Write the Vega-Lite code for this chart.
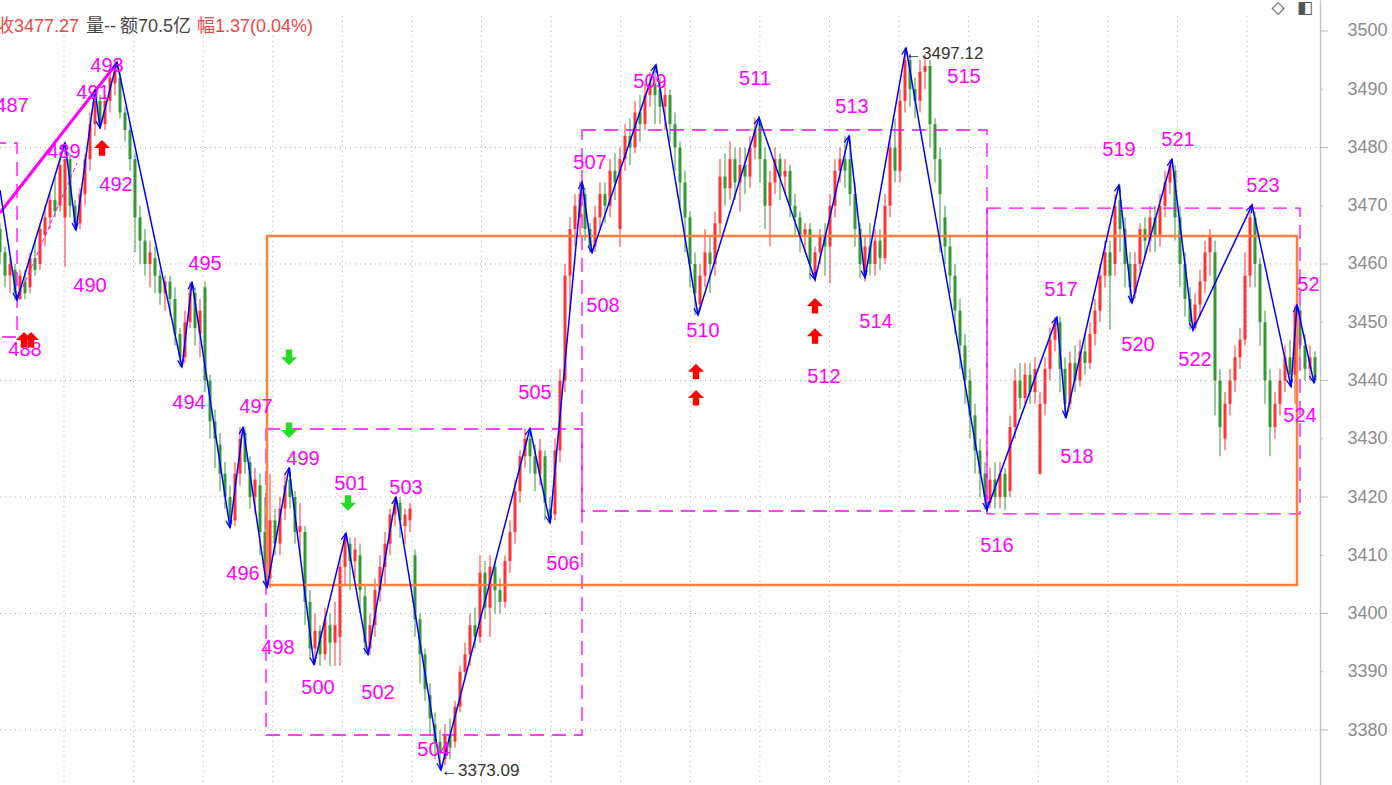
{
"$schema": "https://vega.github.io/schema/vega-lite/v6.json",
"width": 1320, "height": 785,
"autosize": {"type": "none"},
"padding": {"left": 0, "top": 0, "right": 72, "bottom": 0},
"background": "white",
"config": {"view": {"stroke": null}},
"datasets": {
"vgrid": [{"t":64},{"t":133.6},{"t":203.2},{"t":272.8},{"t":342.4},{"t":412},{"t":481.5},{"t":551.1},{"t":620.7},{"t":690.3},{"t":759.9},{"t":829.5},{"t":899.1},{"t":968.7},{"t":1038.3},{"t":1107.9},{"t":1177.5},{"t":1247}],
"major": [{"v":3380},{"v":3400},{"v":3420},{"v":3440},{"v":3460},{"v":3480},{"v":3500}],
"minor": [{"v":3390},{"v":3410},{"v":3430},{"v":3450},{"v":3470},{"v":3490}],
"candles": [
{"t":0,"o":3466,"c":3462,"h":3467,"l":3460},
{"t":5,"o":3462,"c":3458,"h":3463,"l":3456},
{"t":10,"o":3458,"c":3460,"h":3461,"l":3455},
{"t":15,"o":3459,"c":3455,"h":3460,"l":3453.8},
{"t":20,"o":3454,"c":3458,"h":3459,"l":3453.8},
{"t":25,"o":3457,"c":3455,"h":3459,"l":3454},
{"t":30,"o":3456,"c":3461,"h":3462,"l":3455},
{"t":35,"o":3461,"c":3459,"h":3464,"l":3458},
{"t":40,"o":3460,"c":3466,"h":3467,"l":3459},
{"t":45,"o":3465,"c":3468,"h":3470,"l":3463},
{"t":50,"o":3468,"c":3471,"h":3472,"l":3466},
{"t":55,"o":3471,"c":3469,"h":3475,"l":3468},
{"t":60,"o":3470,"c":3477,"h":3478,"l":3469},
{"t":65,"o":3468,"c":3478,"h":3480.8,"l":3459.5},
{"t":70,"o":3478,"c":3470,"h":3479,"l":3468},
{"t":75,"o":3470,"c":3467,"h":3471,"l":3465.8},
{"t":80,"o":3467,"c":3472,"h":3473,"l":3466},
{"t":85,"o":3472,"c":3478,"h":3479,"l":3470},
{"t":90,"o":3478,"c":3484,"h":3486,"l":3476},
{"t":95,"o":3484,"c":3488,"h":3489.9,"l":3482},
{"t":100,"o":3488,"c":3484,"h":3489,"l":3483.3},
{"t":105,"o":3484,"c":3488,"h":3489,"l":3483},
{"t":110,"o":3488,"c":3492,"h":3493,"l":3486},
{"t":115,"o":3491,"c":3494,"h":3494.7,"l":3489},
{"t":120,"o":3492,"c":3486,"h":3493,"l":3485},
{"t":125,"o":3486,"c":3483,"h":3487,"l":3481},
{"t":130,"o":3483,"c":3478,"h":3484,"l":3476},
{"t":135,"o":3478,"c":3468,"h":3479,"l":3462},
{"t":140,"o":3468,"c":3464,"h":3470,"l":3460},
{"t":145,"o":3464,"c":3460,"h":3466,"l":3458},
{"t":150,"o":3460,"c":3462,"h":3464,"l":3456},
{"t":155,"o":3461,"c":3458,"h":3463,"l":3455},
{"t":160,"o":3458,"c":3455,"h":3459,"l":3453},
{"t":165,"o":3455,"c":3457,"h":3458,"l":3452},
{"t":170,"o":3457,"c":3454,"h":3458,"l":3451},
{"t":175,"o":3454,"c":3448,"h":3456,"l":3446},
{"t":180,"o":3448,"c":3444,"h":3449,"l":3442.3},
{"t":185,"o":3444,"c":3450,"h":3452,"l":3443},
{"t":190,"o":3450,"c":3455,"h":3456.9,"l":3449},
{"t":195,"o":3455,"c":3449,"h":3456,"l":3446},
{"t":200,"o":3448,"c":3452,"h":3454,"l":3444},
{"t":205,"o":3456,"c":3440,"h":3457,"l":3438},
{"t":210,"o":3440,"c":3433,"h":3441,"l":3430},
{"t":215,"o":3433,"c":3430,"h":3435,"l":3425},
{"t":220,"o":3429,"c":3424,"h":3431,"l":3421},
{"t":225,"o":3424,"c":3420,"h":3426,"l":3418},
{"t":230,"o":3420,"c":3416,"h":3422,"l":3414.7},
{"t":235,"o":3416,"c":3424,"h":3426,"l":3415},
{"t":240,"o":3424,"c":3430,"h":3432,"l":3422},
{"t":245,"o":3431,"c":3426,"h":3432,"l":3424},
{"t":250,"o":3426,"c":3420,"h":3427,"l":3418},
{"t":255,"o":3420,"c":3423,"h":3425,"l":3417},
{"t":260,"o":3422,"c":3414,"h":3424,"l":3410},
{"t":265,"o":3414,"c":3408,"h":3420,"l":3405},
{"t":270,"o":3406,"c":3416,"h":3424,"l":3404.4},
{"t":275,"o":3416,"c":3412,"h":3418,"l":3410},
{"t":280,"o":3412,"c":3418,"h":3420,"l":3410},
{"t":285,"o":3418,"c":3422,"h":3424,"l":3416},
{"t":290,"o":3423,"c":3420,"h":3425,"l":3418},
{"t":295,"o":3420,"c":3414,"h":3421,"l":3412},
{"t":300,"o":3414,"c":3415,"h":3419,"l":3410},
{"t":305,"o":3414,"c":3402,"h":3415,"l":3398},
{"t":310,"o":3402,"c":3394,"h":3404,"l":3392},
{"t":315,"o":3394,"c":3397,"h":3400,"l":3391.2},
{"t":320,"o":3397,"c":3393,"h":3398,"l":3391},
{"t":325,"o":3393,"c":3399,"h":3401,"l":3392},
{"t":330,"o":3398,"c":3395,"h":3400,"l":3391},
{"t":335,"o":3395,"c":3398,"h":3402,"l":3391},
{"t":340,"o":3396,"c":3408,"h":3410,"l":3391},
{"t":345,"o":3408,"c":3413,"h":3413.8,"l":3405},
{"t":350,"o":3412,"c":3409,"h":3413,"l":3404},
{"t":355,"o":3409,"c":3411,"h":3413,"l":3406},
{"t":360,"o":3410,"c":3404,"h":3412,"l":3400},
{"t":365,"o":3403,"c":3395,"h":3405,"l":3393},
{"t":370,"o":3394,"c":3398,"h":3400,"l":3392.9},
{"t":375,"o":3398,"c":3404,"h":3406,"l":3396},
{"t":380,"o":3404,"c":3408,"h":3410,"l":3402},
{"t":385,"o":3408,"c":3412,"h":3414,"l":3405},
{"t":390,"o":3412,"c":3417,"h":3418,"l":3410},
{"t":395,"o":3417,"c":3419,"h":3420,"l":3415},
{"t":400,"o":3419,"c":3416,"h":3420,"l":3413},
{"t":405,"o":3415,"c":3417,"h":3418,"l":3412},
{"t":410,"o":3416,"c":3418,"h":3419,"l":3414},
{"t":415,"o":3410,"c":3399,"h":3411,"l":3396},
{"t":420,"o":3399,"c":3393,"h":3400,"l":3388},
{"t":425,"o":3393,"c":3387,"h":3394,"l":3385},
{"t":430,"o":3386,"c":3382,"h":3388,"l":3379},
{"t":435,"o":3381,"c":3378,"h":3383,"l":3375},
{"t":440,"o":3378,"c":3376,"h":3380,"l":3373.09},
{"t":445,"o":3375,"c":3379,"h":3381,"l":3374},
{"t":450,"o":3379,"c":3377,"h":3382,"l":3375},
{"t":455,"o":3378,"c":3384,"h":3385,"l":3377},
{"t":460,"o":3384,"c":3390,"h":3391,"l":3383},
{"t":465,"o":3390,"c":3393,"h":3395,"l":3389},
{"t":470,"o":3393,"c":3398,"h":3400,"l":3391},
{"t":475,"o":3398,"c":3396,"h":3401,"l":3394},
{"t":480,"o":3396,"c":3407,"h":3410,"l":3395},
{"t":485,"o":3407,"c":3401,"h":3409,"l":3399},
{"t":490,"o":3401,"c":3408,"h":3410,"l":3396},
{"t":495,"o":3408,"c":3404,"h":3409,"l":3400},
{"t":500,"o":3404,"c":3402,"h":3406,"l":3400},
{"t":505,"o":3402,"c":3409,"h":3410,"l":3401},
{"t":510,"o":3409,"c":3414,"h":3416,"l":3407},
{"t":515,"o":3414,"c":3421,"h":3423,"l":3412},
{"t":520,"o":3421,"c":3427,"h":3428,"l":3419},
{"t":525,"o":3427,"c":3430,"h":3431.8,"l":3425},
{"t":530,"o":3430,"c":3427,"h":3431,"l":3424},
{"t":535,"o":3427,"c":3424,"h":3429,"l":3421},
{"t":540,"o":3424,"c":3428,"h":3430,"l":3422},
{"t":545,"o":3427,"c":3419,"h":3428,"l":3416},
{"t":550,"o":3418,"c":3416,"h":3420,"l":3415.5},
{"t":555,"o":3417,"c":3428,"h":3430,"l":3416},
{"t":560,"o":3428,"c":3440,"h":3442,"l":3426},
{"t":565,"o":3440,"c":3458,"h":3460,"l":3438},
{"t":570,"o":3458,"c":3466,"h":3468,"l":3452},
{"t":575,"o":3466,"c":3470,"h":3472,"l":3463},
{"t":580,"o":3468,"c":3472,"h":3474.1,"l":3465},
{"t":585,"o":3472,"c":3466,"h":3473,"l":3464},
{"t":590,"o":3466,"c":3463,"h":3467,"l":3461.9},
{"t":595,"o":3463,"c":3468,"h":3470,"l":3462},
{"t":600,"o":3468,"c":3472,"h":3474,"l":3466},
{"t":605,"o":3472,"c":3470,"h":3474,"l":3467},
{"t":610,"o":3470,"c":3476,"h":3478,"l":3468},
{"t":615,"o":3476,"c":3474,"h":3479,"l":3471},
{"t":620,"o":3466,"c":3478,"h":3480,"l":3463},
{"t":625,"o":3478,"c":3482,"h":3484,"l":3476},
{"t":630,"o":3482,"c":3480,"h":3485,"l":3477},
{"t":635,"o":3480,"c":3486,"h":3488,"l":3479},
{"t":640,"o":3486,"c":3484,"h":3489,"l":3481},
{"t":645,"o":3484,"c":3489,"h":3491,"l":3483},
{"t":650,"o":3489,"c":3491,"h":3493,"l":3487},
{"t":655,"o":3491,"c":3489,"h":3494.2,"l":3484},
{"t":660,"o":3490,"c":3487,"h":3492,"l":3484},
{"t":665,"o":3487,"c":3489,"h":3491,"l":3483},
{"t":670,"o":3489,"c":3484,"h":3490,"l":3481},
{"t":675,"o":3484,"c":3480,"h":3486,"l":3476},
{"t":680,"o":3480,"c":3474,"h":3481,"l":3470},
{"t":685,"o":3474,"c":3468,"h":3476,"l":3462},
{"t":690,"o":3468,"c":3460,"h":3469,"l":3456},
{"t":695,"o":3460,"c":3455,"h":3462,"l":3451.2},
{"t":700,"o":3453,"c":3458,"h":3460,"l":3452},
{"t":705,"o":3458,"c":3462,"h":3466,"l":3456},
{"t":710,"o":3462,"c":3460,"h":3465,"l":3455},
{"t":715,"o":3460,"c":3467,"h":3469,"l":3458},
{"t":720,"o":3467,"c":3475,"h":3478,"l":3465},
{"t":725,"o":3475,"c":3473,"h":3479,"l":3470},
{"t":730,"o":3473,"c":3478,"h":3481,"l":3471},
{"t":735,"o":3478,"c":3474,"h":3480,"l":3471},
{"t":740,"o":3474,"c":3477,"h":3480,"l":3469},
{"t":745,"o":3477,"c":3475,"h":3480,"l":3472},
{"t":750,"o":3475,"c":3480,"h":3482,"l":3473},
{"t":755,"o":3480,"c":3483,"h":3485.1,"l":3478},
{"t":760,"o":3484,"c":3478,"h":3485,"l":3474},
{"t":765,"o":3478,"c":3470,"h":3480,"l":3466},
{"t":770,"o":3470,"c":3474,"h":3476,"l":3463},
{"t":775,"o":3474,"c":3478,"h":3480,"l":3472},
{"t":780,"o":3478,"c":3475,"h":3479,"l":3471},
{"t":785,"o":3475,"c":3476,"h":3478,"l":3472},
{"t":790,"o":3476,"c":3470,"h":3477,"l":3468},
{"t":795,"o":3470,"c":3468,"h":3472,"l":3465},
{"t":800,"o":3468,"c":3465,"h":3469,"l":3462},
{"t":805,"o":3465,"c":3466,"h":3467,"l":3462},
{"t":810,"o":3466,"c":3460,"h":3467,"l":3457.3},
{"t":815,"o":3458,"c":3462,"h":3463,"l":3457.3},
{"t":820,"o":3462,"c":3465,"h":3466,"l":3460},
{"t":825,"o":3465,"c":3463,"h":3467,"l":3458},
{"t":830,"o":3463,"c":3470,"h":3472,"l":3456.7},
{"t":835,"o":3470,"c":3476,"h":3478,"l":3468},
{"t":840,"o":3476,"c":3478,"h":3480,"l":3474},
{"t":845,"o":3478,"c":3476,"h":3482,"l":3473},
{"t":850,"o":3478,"c":3472,"h":3482,"l":3470},
{"t":855,"o":3472,"c":3466,"h":3474,"l":3463},
{"t":860,"o":3466,"c":3460,"h":3467,"l":3457.6},
{"t":865,"o":3458,"c":3463,"h":3465,"l":3457},
{"t":870,"o":3463,"c":3460,"h":3467,"l":3458},
{"t":875,"o":3460,"c":3464,"h":3466,"l":3458},
{"t":880,"o":3464,"c":3461,"h":3466,"l":3459},
{"t":885,"o":3461,"c":3470,"h":3472,"l":3460},
{"t":890,"o":3470,"c":3480,"h":3482,"l":3468},
{"t":895,"o":3480,"c":3476,"h":3485,"l":3474},
{"t":900,"o":3476,"c":3488,"h":3490,"l":3474},
{"t":905,"o":3488,"c":3495,"h":3497.12,"l":3486},
{"t":910,"o":3495,"c":3490,"h":3496,"l":3487},
{"t":915,"o":3490,"c":3488,"h":3492,"l":3485},
{"t":920,"o":3488,"c":3493,"h":3495,"l":3486},
{"t":925,"o":3493,"c":3494,"h":3496,"l":3490},
{"t":930,"o":3494,"c":3484,"h":3495,"l":3480},
{"t":935,"o":3484,"c":3478,"h":3485,"l":3474},
{"t":940,"o":3478,"c":3472,"h":3480,"l":3462},
{"t":945,"o":3468,"c":3463,"h":3470,"l":3460},
{"t":950,"o":3463,"c":3458,"h":3465,"l":3455},
{"t":955,"o":3458,"c":3452,"h":3460,"l":3448},
{"t":960,"o":3452,"c":3446,"h":3454,"l":3442},
{"t":965,"o":3446,"c":3440,"h":3448,"l":3436},
{"t":970,"o":3440,"c":3434,"h":3442,"l":3430},
{"t":975,"o":3434,"c":3428,"h":3436,"l":3424},
{"t":980,"o":3428,"c":3424,"h":3430,"l":3420},
{"t":985,"o":3424,"c":3420,"h":3426,"l":3417.8},
{"t":990,"o":3419,"c":3423,"h":3425,"l":3418},
{"t":995,"o":3423,"c":3420,"h":3426,"l":3418},
{"t":1000,"o":3420,"c":3424,"h":3426,"l":3418},
{"t":1005,"o":3424,"c":3420,"h":3425,"l":3417.8},
{"t":1010,"o":3421,"c":3432,"h":3434,"l":3420},
{"t":1015,"o":3432,"c":3440,"h":3442,"l":3430},
{"t":1020,"o":3440,"c":3437,"h":3443,"l":3435},
{"t":1025,"o":3437,"c":3441,"h":3443,"l":3436},
{"t":1030,"o":3441,"c":3438,"h":3443,"l":3436},
{"t":1035,"o":3438,"c":3442,"h":3444,"l":3436},
{"t":1040,"o":3424,"c":3436,"h":3438,"l":3423.8},
{"t":1045,"o":3436,"c":3442,"h":3444,"l":3434},
{"t":1050,"o":3442,"c":3447,"h":3449,"l":3440},
{"t":1055,"o":3447,"c":3450,"h":3450.9,"l":3445},
{"t":1060,"o":3450,"c":3442,"h":3451,"l":3438},
{"t":1065,"o":3442,"c":3436,"h":3444,"l":3433.6},
{"t":1070,"o":3436,"c":3443,"h":3445,"l":3435},
{"t":1075,"o":3443,"c":3440,"h":3446,"l":3438},
{"t":1080,"o":3440,"c":3445,"h":3447,"l":3439},
{"t":1085,"o":3445,"c":3443,"h":3448,"l":3441},
{"t":1090,"o":3443,"c":3448,"h":3450,"l":3442},
{"t":1095,"o":3448,"c":3452,"h":3454,"l":3446},
{"t":1100,"o":3452,"c":3458,"h":3460,"l":3450},
{"t":1105,"o":3458,"c":3462,"h":3464,"l":3456},
{"t":1110,"o":3462,"c":3458,"h":3464,"l":3448.7},
{"t":1115,"o":3460,"c":3470,"h":3472,"l":3458},
{"t":1120,"o":3471,"c":3466,"h":3473.6,"l":3462},
{"t":1125,"o":3466,"c":3460,"h":3468,"l":3456},
{"t":1130,"o":3460,"c":3456,"h":3462,"l":3453.3},
{"t":1135,"o":3455,"c":3460,"h":3462,"l":3454},
{"t":1140,"o":3460,"c":3466,"h":3467,"l":3458},
{"t":1145,"o":3466,"c":3464,"h":3468,"l":3461},
{"t":1150,"o":3464,"c":3468,"h":3470,"l":3462},
{"t":1155,"o":3468,"c":3465,"h":3470,"l":3462},
{"t":1160,"o":3465,"c":3470,"h":3472,"l":3463},
{"t":1165,"o":3470,"c":3474,"h":3476,"l":3468},
{"t":1170,"o":3474,"c":3477,"h":3478,"l":3472},
{"t":1175,"o":3476,"c":3468,"h":3477,"l":3464},
{"t":1180,"o":3468,"c":3460,"h":3470,"l":3456},
{"t":1185,"o":3460,"c":3454,"h":3462,"l":3451},
{"t":1190,"o":3454,"c":3450,"h":3456,"l":3448.7},
{"t":1195,"o":3449,"c":3453,"h":3455,"l":3448.7},
{"t":1200,"o":3453,"c":3457,"h":3459,"l":3451},
{"t":1205,"o":3457,"c":3462,"h":3464,"l":3455},
{"t":1210,"o":3462,"c":3465,"h":3466,"l":3458},
{"t":1215,"o":3462,"c":3440,"h":3464,"l":3434},
{"t":1220,"o":3440,"c":3432,"h":3442,"l":3427},
{"t":1225,"o":3430,"c":3436,"h":3438,"l":3428},
{"t":1230,"o":3436,"c":3440,"h":3442,"l":3434},
{"t":1235,"o":3440,"c":3444,"h":3446,"l":3438},
{"t":1240,"o":3444,"c":3447,"h":3449,"l":3442},
{"t":1245,"o":3447,"c":3458,"h":3462,"l":3446},
{"t":1250,"o":3458,"c":3468,"h":3470.1,"l":3456},
{"t":1255,"o":3468,"c":3460,"h":3469,"l":3456},
{"t":1260,"o":3460,"c":3450,"h":3461,"l":3446},
{"t":1265,"o":3450,"c":3440,"h":3452,"l":3436},
{"t":1270,"o":3440,"c":3432,"h":3442,"l":3427},
{"t":1275,"o":3432,"c":3436,"h":3438,"l":3430},
{"t":1280,"o":3436,"c":3440,"h":3442,"l":3434},
{"t":1285,"o":3440,"c":3444,"h":3446,"l":3438},
{"t":1290,"o":3444,"c":3441,"h":3447,"l":3438.9},
{"t":1295,"o":3441,"c":3452,"h":3453,"l":3436},
{"t":1300,"o":3452,"c":3446,"h":3453,"l":3444},
{"t":1305,"o":3446,"c":3442,"h":3448,"l":3440},
{"t":1310,"o":3442,"c":3444,"h":3446,"l":3440},
{"t":1315,"o":3444,"c":3440,"h":3445,"l":3439.6}
],
"zig": [
{"t":0,"v":3472.7},{"t":17,"v":3453.8},{"t":65,"v":3480.8},{"t":76,"v":3465.8},{"t":95,"v":3489.9},{"t":100,"v":3483.3},{"t":117,"v":3494.7},{"t":182,"v":3442.3},{"t":192,"v":3456.9},{"t":230,"v":3414.7},{"t":243,"v":3432.0},{"t":267,"v":3404.4},{"t":289,"v":3425.0},{"t":314,"v":3391.2},{"t":346,"v":3413.8},{"t":368,"v":3392.9},{"t":396,"v":3420.0},{"t":441,"v":3373.09},{"t":530,"v":3431.8},{"t":550,"v":3415.5},{"t":582,"v":3474.1},{"t":592,"v":3461.9},{"t":656,"v":3494.2},{"t":698,"v":3451.2},{"t":759,"v":3485.1},{"t":815,"v":3457.3},{"t":849,"v":3482.0},{"t":865,"v":3457.6},{"t":906,"v":3497.12},{"t":987,"v":3417.8},{"t":1057,"v":3450.9},{"t":1066,"v":3433.6},{"t":1119,"v":3473.6},{"t":1132,"v":3453.3},{"t":1172,"v":3478.0},{"t":1193,"v":3448.7},{"t":1252,"v":3470.1},{"t":1291,"v":3438.9},{"t":1297,"v":3453.0},{"t":1314,"v":3439.6}
],
"labels": [
{"n":"487","t":12,"v":3487.1},{"n":"488","t":25,"v":3445.2},{"n":"489","t":64,"v":3479.2},{"n":"490","t":90,"v":3456.2},{"n":"491","t":93,"v":3489.4},{"n":"492","t":116,"v":3473.6},{"n":"493","t":107,"v":3494.0},{"n":"494","t":189,"v":3436.1},{"n":"495","t":205,"v":3460.0},{"n":"496","t":243,"v":3406.8},{"n":"497","t":256,"v":3435.5},{"n":"498","t":278,"v":3394.1},{"n":"499","t":303,"v":3426.5},{"n":"500","t":318,"v":3387.2},{"n":"501","t":351,"v":3422.2},{"n":"502","t":378,"v":3386.4},{"n":"503","t":406,"v":3421.5},{"n":"504","t":434,"v":3376.6},{"n":"505","t":535,"v":3437.9},{"n":"506","t":563,"v":3408.5},{"n":"507","t":590,"v":3477.3},{"n":"508","t":603,"v":3452.8},{"n":"509","t":650,"v":3491.2},{"n":"510","t":703,"v":3448.5},{"n":"511","t":755,"v":3491.8},{"n":"512","t":824,"v":3440.6},{"n":"513","t":852,"v":3487.0},{"n":"514","t":876,"v":3450.0},{"n":"515","t":964,"v":3492.1},{"n":"516","t":997,"v":3411.6},{"n":"517","t":1061,"v":3455.5},{"n":"518","t":1077,"v":3426.9},{"n":"519","t":1119,"v":3479.6},{"n":"520","t":1138,"v":3446.1},{"n":"521","t":1178,"v":3481.3},{"n":"522","t":1195,"v":3443.5},{"n":"523","t":1263,"v":3473.4},{"n":"524","t":1300,"v":3433.9},{"n":"525","t":1314,"v":3456.4}
],
"boxes": [
{"x1":-30,"x2":17,"y1":3480.77,"y2":3447.47},
{"x1":266,"x2":582,"y1":3431.67,"y2":3379.14},
{"x1":582,"x2":987,"y1":3483.0,"y2":3417.6},
{"x1":987,"x2":1300,"y1":3469.6,"y2":3417.1}
],
"obox": [{"x1":267,"x2":1297,"y1":3464.8,"y2":3404.9}],
"plines": [
{"id":"a","t":0,"v":3468.8},{"id":"a","t":117,"v":3494.5},
{"id":"b","t":17,"v":3453.8},{"id":"b","t":77,"v":3477.3}
],
"sigs": [
{"t":24,"v":3446.95,"dir":"up"},{"t":31,"v":3446.95,"dir":"up"},{"t":102,"v":3479.9,"dir":"up"},{"t":696,"v":3441.5,"dir":"up"},{"t":696,"v":3437.0,"dir":"up"},{"t":815,"v":3452.8,"dir":"up"},{"t":815,"v":3447.6,"dir":"up"},
{"t":289,"v":3444.0,"dir":"down"},{"t":289,"v":3431.5,"dir":"down"},{"t":348,"v":3419.0,"dir":"down"}
],
"notes": [{"t":905,"v":3496.05,"text":"←3497.12"},{"t":441,"v":3372.96,"text":"←3373.09"}],
"hdr": [
{"t":-4,"v":3500.7,"text":"收3477.27","k":"r"},{"t":86,"v":3500.7,"text":"量--","k":"g"},{"t":120,"v":3500.7,"text":"额70.5亿","k":"g"},{"t":197,"v":3500.7,"text":"幅1.37(0.04%)","k":"r"}
],
"icons": [{"t":1278,"v":3503.95,"text":"◇"},{"t":1305,"v":3503.95,"text":"◧"}]
},
"layer": [
{"data":{"name":"major"},"transform":[{"filter":"datum.v < 3500"}],"mark":{"type":"rule","strokeDash":[1,4],"color":"#aaaaaa","strokeWidth":1},
 "encoding":{"y":{"field":"v","type":"quantitative","scale":{"domain":[3370.56,3505.32],"nice":false,"zero":false},
   "axis":{"orient":"right","values":[3380,3390,3400,3410,3420,3430,3440,3450,3460,3470,3480,3490,3500],"title":null,
    "grid":false,"ticks":false,"format":"d","domainColor":"#c4c4c4","domainWidth":1.5,
    "labelFont":"Liberation Sans","labelFontSize":18,"labelColor":"#8c8c8c","labelPadding":27}},
  "x":{"datum":0,"type":"quantitative","scale":{"domain":[0,1320],"nice":false,"zero":false},"axis":null},"x2":{"datum":1320}}},
{"data":{"name":"vgrid"},"mark":{"type":"rule","strokeDash":[1,4],"color":"#aaaaaa","strokeWidth":1},
 "encoding":{"x":{"field":"t","type":"quantitative","axis":null},"y":{"datum":3502.6,"type":"quantitative","axis":{"title":null}},"y2":{"datum":3370.56}}},
{"data":{"name":"major"},"mark":{"type":"rule","color":"#b8b8b8","strokeWidth":1},
 "encoding":{"y":{"field":"v","type":"quantitative","axis":{"title":null}},"x":{"datum":1320,"type":"quantitative","axis":null},"x2":{"datum":1328}}},
{"data":{"name":"minor"},"mark":{"type":"rule","color":"#b8b8b8","strokeWidth":1},
 "encoding":{"y":{"field":"v","type":"quantitative","axis":{"title":null}},"x":{"datum":1320,"type":"quantitative","axis":null},"x2":{"datum":1323}}},
{"data":{"name":"candles"},"mark":{"type":"rule","strokeWidth":1,"clip":true},
 "encoding":{
  "x":{"field":"t","type":"quantitative","axis":null},
  "y":{"field":"l","type":"quantitative","axis":{"title":null}},
  "y2":{"field":"h"},
  "color":{"condition":{"test":"datum.c >= datum.o","value":"#ff3333"},"value":"#339933"}
 }},
{"data":{"name":"candles"},"mark":{"type":"rule","strokeWidth":3,"clip":true},
 "encoding":{
  "x":{"field":"t","type":"quantitative","axis":null},
  "y":{"field":"o","type":"quantitative","axis":{"title":null}},
  "y2":{"field":"c"},
  "color":{"condition":{"test":"datum.c >= datum.o","value":"#ff3333"},"value":"#339933"}
 }},
{"data":{"name":"boxes"},"mark":{"type":"rect","filled":false,"stroke":"#ff00ff","strokeWidth":1.3,"strokeDash":[14,8],"clip":true},
 "encoding":{"x":{"field":"x1","type":"quantitative","axis":null},"x2":{"field":"x2"},"y":{"field":"y1","type":"quantitative","axis":{"title":null}},"y2":{"field":"y2"}}},
{"data":{"name":"obox"},"mark":{"type":"rect","filled":false,"stroke":"#ff7f3c","strokeWidth":2.5,"clip":true},
 "encoding":{"x":{"field":"x1","type":"quantitative","axis":null},"x2":{"field":"x2"},"y":{"field":"y1","type":"quantitative","axis":{"title":null}},"y2":{"field":"y2"}}},
{"data":{"name":"plines"},"transform":[{"filter":"datum.id == 'a'"}],"mark":{"type":"line","color":"#ff00ff","strokeWidth":3,"clip":true},
 "encoding":{"x":{"field":"t","type":"quantitative","axis":null},"y":{"field":"v","type":"quantitative","axis":{"title":null}}}},
{"data":{"name":"plines"},"transform":[{"filter":"datum.id == 'b'"}],"mark":{"type":"line","color":"#ff00ff","strokeWidth":1,"strokeDash":[4,3],"clip":true},
 "encoding":{"x":{"field":"t","type":"quantitative","axis":null},"y":{"field":"v","type":"quantitative","axis":{"title":null}}}},
{"data":{"name":"zig"},"mark":{"type":"line","color":"#0000ff","strokeWidth":1.5,"clip":true},
 "encoding":{"x":{"field":"t","type":"quantitative","axis":null},"y":{"field":"v","type":"quantitative","axis":{"title":null}},"order":{"field":"t"}}},
{"data":{"name":"zig"},
 "transform":[
  {"window":[{"op":"lag","field":"t","as":"pt"},{"op":"lag","field":"v","as":"pv"}],"sort":[{"field":"t","order":"ascending"}]},
  {"filter":"isValid(datum.pt)"},
  {"calculate":"atan2(datum.t - datum.pt, (datum.v - datum.pv) * 5.825) * 180 / PI","as":"ang"}
 ],
 "mark":{"type":"point","shape":"M-0.6,1.5L0,0L0.6,1.5","filled":false,"stroke":"#0000ff","strokeWidth":1.2,"size":100,"opacity":1,"clip":true},
 "encoding":{"x":{"field":"t","type":"quantitative","axis":null},"y":{"field":"v","type":"quantitative","axis":{"title":null}},"angle":{"field":"ang","type":"quantitative","scale":null}}},
{"data":{"name":"labels"},"mark":{"type":"text","font":"Liberation Sans","fontSize":20,"color":"#ff00ff","align":"center","baseline":"middle","clip":true},
 "encoding":{"x":{"field":"t","type":"quantitative","axis":null},"y":{"field":"v","type":"quantitative","axis":{"title":null}},"text":{"field":"n"}}},
{"data":{"name":"sigs"},"mark":{"type":"point","filled":true,"size":256,"opacity":1,"strokeWidth":0},
 "encoding":{"x":{"field":"t","type":"quantitative","axis":null},"y":{"field":"v","type":"quantitative","axis":{"title":null}},
  "shape":{"field":"dir","type":"nominal","scale":{"domain":["up","down"],"range":["M0,-1L1,0L0.4,0L0.4,0.95L-0.4,0.95L-0.4,0L-1,0Z","M0,1L1,0L0.4,0L0.4,-0.95L-0.4,-0.95L-0.4,0L-1,0Z"]},"legend":null},
  "color":{"condition":{"test":"datum.dir == 'up'","value":"#ff0000"},"value":"#22dd22"}}},
{"data":{"name":"notes"},"mark":{"type":"text","font":"Liberation Sans","fontSize":17,"color":"#333333","align":"left","baseline":"middle"},
 "encoding":{"x":{"field":"t","type":"quantitative","axis":null},"y":{"field":"v","type":"quantitative","axis":{"title":null}},"text":{"field":"text"}}},
{"data":{"name":"hdr"},"mark":{"type":"text","font":"Liberation Sans, Noto Sans CJK SC","fontSize":18,"align":"left","baseline":"middle"},
 "encoding":{"x":{"field":"t","type":"quantitative","axis":null},"y":{"field":"v","type":"quantitative","axis":{"title":null}},"text":{"field":"text"},
  "color":{"condition":{"test":"datum.k == 'r'","value":"#f04646"},"value":"#444444"}}},
{"data":{"name":"icons"},"mark":{"type":"text","font":"DejaVu Sans","fontSize":17,"color":"#555555","align":"center","baseline":"middle"},
 "encoding":{"x":{"field":"t","type":"quantitative","axis":null},"y":{"field":"v","type":"quantitative","axis":{"title":null}},"text":{"field":"text"}}}
]
}
